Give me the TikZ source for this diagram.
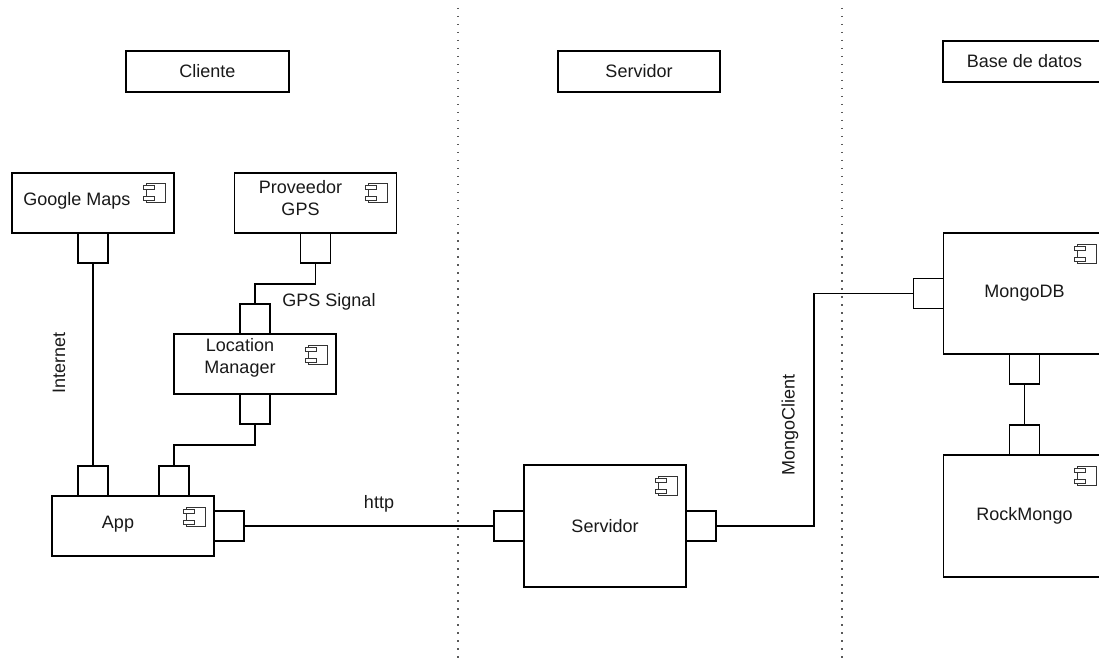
\documentclass[tikz,border=0pt]{standalone}
\usepackage{fontspec}
\setmainfont{Liberation Sans}
\usetikzlibrary{positioning}
\begin{document}
\begin{tikzpicture}[x=1pt,y=-1pt,
  every node/.style={font=\fontsize{18}{21.6}\selectfont,text=black!90},
  comp/.style={draw,line width=1.8pt,fill=white,minimum width=162pt,minimum height=60pt,inner sep=0pt,outer sep=0pt},
  port/.style={draw,line width=1.8pt,fill=white,minimum size=30pt,inner sep=0pt,outer sep=0pt},
  hdr/.style={draw,line width=1.8pt,minimum width=163pt,minimum height=41pt,inner sep=0pt},
  lbl/.style={align=center,inner sep=0pt},
  wire/.style={line width=1.8pt},
  lane/.style={draw=gray!70!black,line width=1.5pt,dash pattern=on 1.5pt off 6.5pt},
  icon/.style={line width=1pt,draw=black!80}]
  \useasboundingbox (0,0) rectangle (1099,660);
  % lanes
  \draw[lane] (458,8) -- (458,660);
  \draw[lane] (842,8) -- (842,660);
  % headers
  \node[hdr] (hcli) at (207.5,71.5) {Cliente};
  \node[hdr,minimum width=162pt] (hsrv) at (639,71.5) {Servidor};
  \node[hdr] (hdb) at (1024.5,61.5) {Base de datos};
  % components
  \node[comp,label={[lbl,xshift=-16pt,yshift=2pt]center:Google Maps}] (gmaps) at (93,203) {};
  \node[comp,label={[lbl,xshift=-15pt,yshift=5pt]center:{Proveedor\\GPS}}] (gps) at (315.5,203) {};
  \node[comp,label={[lbl,xshift=-15pt,yshift=6pt]center:{Location\\Manager}}] (loc) at (255,364) {};
  \node[comp,label={[lbl,xshift=-15pt,yshift=2pt]center:App}] (app) at (133,526) {};
  \node[comp,minimum height=122pt] (srv) at (605,526) {Servidor};
  \node[comp,minimum height=121pt] (mongo) at (1024.5,293.5) {MongoDB};
  \node[comp,minimum height=122pt] (rock) at (1024.5,516) {RockMongo};
  % ports
  \node[port,anchor=north] (gmapsP) at (gmaps.south) {};
  \node[port,anchor=north] (gpsP) at (gps.south) {};
  \node[port,anchor=south] (locA) at (loc.north) {};
  \node[port,anchor=north] (locB) at (loc.south) {};
  \node[port,anchor=south] (appA) at ([xshift=-40pt]app.north) {};
  \node[port,anchor=south] (appB) at ([xshift=41pt]app.north) {};
  \node[port,anchor=west] (appR) at (app.east) {};
  \node[port,anchor=east] (srvL) at (srv.west) {};
  \node[port,anchor=west] (srvR) at (srv.east) {};
  \node[port,anchor=east] (mongoL) at (mongo.west) {};
  \node[port,anchor=north] (mongoB) at (mongo.south) {};
  \node[port,anchor=south] (rockT) at (rock.north) {};
  % component icons
  \foreach \c in {gmaps,gps,loc,app,srv,mongo,rock} {
    \draw[icon,fill=white] ([shift={(-28,11)}]\c.north east) rectangle ([shift={(-9,30)}]\c.north east);
    \draw[icon,fill=white] ([shift={(-31,13)}]\c.north east) rectangle ([shift={(-20,17)}]\c.north east);
    \draw[icon,fill=white] ([shift={(-31,24)}]\c.north east) rectangle ([shift={(-20,28)}]\c.north east);
  }
  % connectors
  \draw[wire] (gmapsP.south) -- (appA.north);
  \draw[wire] (gpsP.south) -- ++(0,21) -| (locA.north);
  \draw[wire] (locB.south) -- ++(0,21) -| (appB.north);
  \draw[wire] (appR.east) -- (srvL.west);
  \draw[wire] (srvR.east) -- ++(98,0) |- (mongoL.west);
  \draw[wire] (mongoB.south) -- (rockT.north);
  % connector labels
  \node[lbl,rotate=90] (tInternet) at (59,363) {Internet};
  \node[lbl] (tGps) at (329,302) {GPS Signal};
  \node[lbl] (tHttp) at (379,504) {http};
  \node[lbl,rotate=90] (tMongo) at (790,425) {MongoClient};
\end{tikzpicture}
\end{document}
